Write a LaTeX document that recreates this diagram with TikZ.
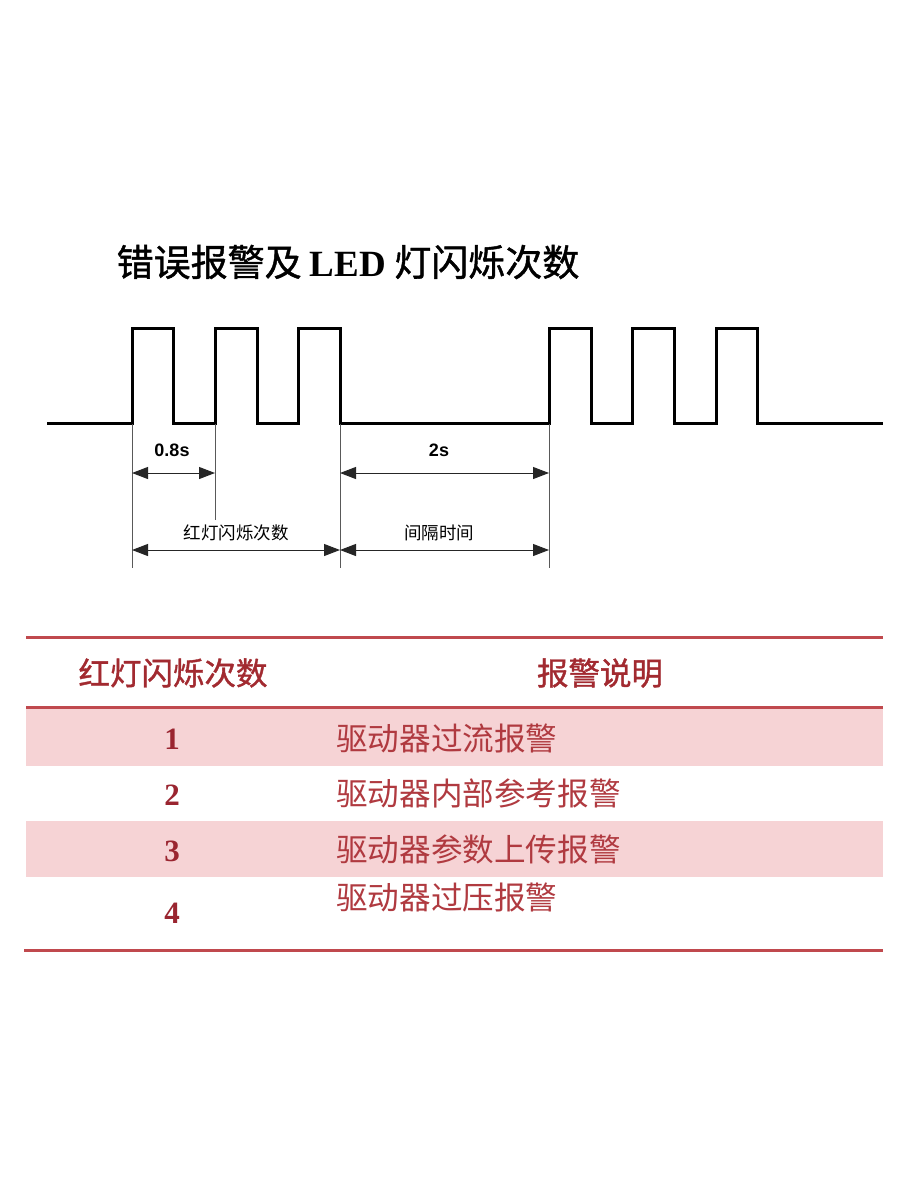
\documentclass[tikz,border=0pt]{standalone}
\usepackage{fontspec}
\setmainfont{Liberation Serif}
\newfontfamily\cjk{Noto Sans CJK SC}
\newfontfamily\cjkbold[FakeBold=1.2]{Noto Sans CJK SC}
\newfontfamily\arialf{Liberation Sans}
\usetikzlibrary{arrows.meta}
\definecolor{rulered}{HTML}{C0494E}
\definecolor{rowpink}{HTML}{F6D3D5}
\definecolor{numred}{HTML}{9A2530}
\definecolor{txtred}{HTML}{B03A40}
\definecolor{headred}{HTML}{A22A30}
\begin{document}
\begin{tikzpicture}[x=1pt,y=-1pt,
  wave/.style={line width=3pt,line join=miter,line cap=butt},
  extline/.style={line width=0.9pt,draw=black!65},
  dimarrow/.style={line width=1pt,draw=black!85,{Triangle[length=16pt,width=12pt]}-{Triangle[length=16pt,width=12pt]}},
  dimlabel/.style={font=\arialf\bfseries\fontsize{18}{20}\selectfont},
  cjklabel/.style={font=\cjk\fontsize{17.5}{19}\selectfont},
  tabrule/.style={draw=rulered,line width=3pt},
  headtxt/.style={font=\cjkbold\fontsize{31.5}{34}\selectfont,text=headred},
  numtxt/.style={font=\rmfamily\bfseries\fontsize{31}{34}\selectfont,text=numred},
  desctxt/.style={font=\cjk\fontsize{31.6}{35}\selectfont,text=txtred,anchor=west,inner sep=0pt}
]
\useasboundingbox[fill=white] (0,0) rectangle (900,1200);

% title
\node[font=\cjkbold\fontsize{37}{40}\selectfont] (title) at (348,262) {错误报警及 {\rmfamily\bfseries LED} 灯闪烁次数};

% waveform
\draw[wave] (47,423) -- (132,423) -- (132,328) -- (173,328) -- (173,423) -- (215,423) -- (215,328) -- (257,328) -- (257,423) -- (298,423) -- (298,328) -- (340,328) -- (340,423) -- (549,423) -- (549,328) -- (591,328) -- (591,423) -- (632,423) -- (632,328) -- (674,328) -- (674,423) -- (716,423) -- (716,328) -- (757,328) -- (757,423) -- (883,423);

% extension lines
\coordinate (aT) at (132,424);
\coordinate (aB) at (132,568);
\coordinate (bT) at (215,424);
\coordinate (bB) at (215,520);
\coordinate (cT) at (340,424);
\coordinate (cB) at (340,568);
\coordinate (dT) at (549,424);
\coordinate (dB) at (549,568);
\draw[extline] (aT) -- (aB);
\draw[extline] (bT) -- (bB);
\draw[extline] (cT) -- (cB);
\draw[extline] (dT) -- (dB);

% dimension arrows
\coordinate (a1) at (132,473);
\coordinate (b1) at (215,473);
\coordinate (c1) at (340,473);
\coordinate (d1) at (549,473);
\coordinate (a2) at (132,550);
\coordinate (c2) at (340,550);
\coordinate (d2) at (549,550);
\draw[dimarrow] (a1) -- (b1);
\draw[dimarrow] (c1) -- (d1);
\draw[dimarrow] (a2) -- (c2);
\draw[dimarrow] (c2) -- (d2);

\node[dimlabel] (l08) at (172,450) {0.8s};
\node[dimlabel] (l2s) at (439,450) {2s};
\node[cjklabel] (lcount) at (236,533) {红灯闪烁次数};
\node[cjklabel] (lgap) at (439,533) {间隔时间};

% table
\fill[rowpink] (26,708) rectangle (883,766);
\fill[rowpink] (26,821) rectangle (883,877);
\draw[tabrule] (26,637) -- (883,637);
\draw[tabrule] (26,707) -- (883,707);
\draw[tabrule] (24,950) -- (883,950);

\node[headtxt] (h1) at (173,673) {红灯闪烁次数};
\node[headtxt] (h2) at (600,673) {报警说明};

\node[numtxt] (n1) at (172,739) {1};
\node[numtxt] (n2) at (172,795) {2};
\node[numtxt] (n3) at (172,851) {3};
\node[numtxt] (n4) at (172,913) {4};

\node[desctxt] (d1t) at (336,738) {驱动器过流报警};
\node[desctxt] (d2t) at (336,793) {驱动器内部参考报警};
\node[desctxt] (d3t) at (336,849) {驱动器参数上传报警};
\node[desctxt] (d4t) at (336,897) {驱动器过压报警};
\end{tikzpicture}
\end{document}
